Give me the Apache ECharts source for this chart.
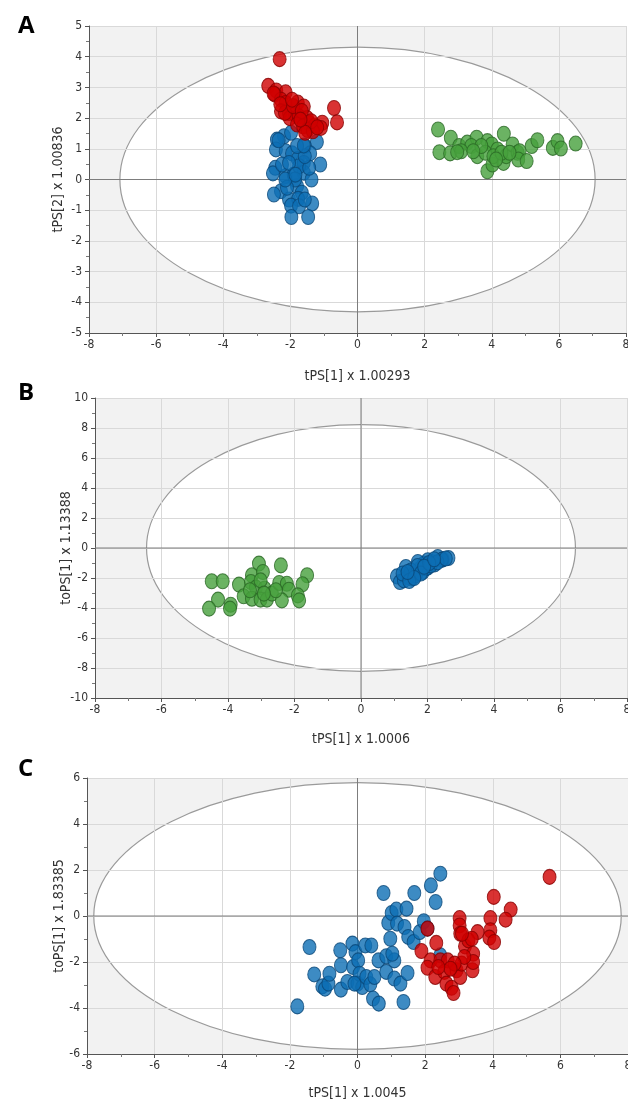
<!DOCTYPE html>
<html>
<head>
<meta charset="utf-8">
<script src="https://cdn.jsdelivr.net/npm/echarts@6.0.0/dist/echarts.min.js"></script>
<style>
  html, body { margin: 0; padding: 0; background: #fff; overflow: hidden; }
  #chart { width: 628px; height: 1100px; }
</style>
</head>
<body>
<div id="chart"></div>
<script>
// score plots A, B, C

const panelLetters = ['A', 'B', 'C'];
const xNames = ['tPS[1] x 1.00293', 'tPS[1] x 1.0006', 'tPS[1] x 1.0045'];
const yNames = ['tPS[2] x 1.00836', 'toPS[1] x 1.13388', 'toPS[1] x 1.83385'];
const xRange = [-8, 8, 2];
const yRanges = [[-5, 5, 1], [-10, 10, 2], [-6, 6, 2]];
// ellipse: centre x, centre y, half width, half height
const ellipseA = [0, 0, 7.08, 4.31];
const ellipseB = [0, 0, 6.45, 8.22];
const ellipseC = [0, 0, 7.8, 5.8];

const aRed = [[-2.32,3.92],[-2.66,3.05],[-2.42,2.9],[-2.14,2.84],[-2.46,2.77],[-2.28,2.6],[-2.14,2.49],[-1.78,2.51],[-1.6,2.38],[-0.7,2.33],[-0.61,1.86],[-2.28,2.22],[-2.04,2.17],[-1.86,2.12],[-2.02,2.0],[-1.75,2.06],[-1.5,2.0],[-1.45,1.84],[-1.8,1.79],[-1.62,1.73],[-1.27,1.76],[-1.05,1.85],[-1.09,1.68],[-1.49,1.61],[-1.33,1.57],[-2.16,2.17],[-1.92,2.39],[-1.66,2.23],[-1.38,1.9],[-1.56,1.52],[-2.5,2.8],[-2.3,2.45],[-1.95,2.6],[-1.7,1.95],[-1.2,1.7]];
const aBlue = [[-2.19,1.41],[-2.4,1.3],[-1.98,1.52],[-1.21,1.22],[-1.57,1.09],[-2.43,0.98],[-2.14,0.92],[-1.95,0.85],[-1.41,0.85],[-1.78,0.67],[-1.6,0.54],[-1.11,0.49],[-2.45,0.38],[-2.52,0.2],[-2.14,0.11],[-1.9,0.16],[-1.6,0.22],[-1.37,0.0],[-1.8,-0.22],[-2.28,-0.38],[-2.49,-0.49],[-1.66,-0.43],[-2.04,-0.65],[-1.77,-0.63],[-1.35,-0.78],[-1.98,-0.85],[-1.74,-0.87],[-1.97,-1.22],[-1.47,-1.22],[-2.25,0.49],[-1.74,0.43],[-1.44,0.38],[-2.04,0.54],[-1.57,0.76],[-1.8,1.09],[-1.86,0.0],[-1.57,-0.65],[-2.1,-0.27],[-2.35,1.28],[-1.6,1.11],[-2.15,0.0],[-1.85,0.16]];
const aGreen = [[2.4,1.63],[2.78,1.36],[2.44,0.89],[2.76,0.85],[3.03,1.09],[3.27,1.2],[3.55,1.36],[3.39,1.09],[3.09,0.92],[3.57,0.76],[3.87,1.25],[4.0,1.14],[3.87,0.27],[4.02,0.49],[3.81,0.87],[4.17,0.98],[4.05,0.76],[4.36,1.49],[4.35,0.54],[4.43,0.76],[4.62,1.14],[4.77,0.87],[4.83,0.92],[4.79,0.65],[5.04,0.6],[5.19,1.09],[5.36,1.28],[5.82,1.03],[5.96,1.25],[6.06,1.01],[6.5,1.17],[3.69,1.09],[4.29,0.87],[4.53,0.87],[4.13,0.65],[3.45,0.92],[2.97,0.89]];

const bGreen = [[-3.07,-1.04],[-2.41,-1.16],[-1.62,-1.82],[-1.76,-2.42],[-4.49,-2.22],[-4.16,-2.22],[-3.67,-2.44],[-3.28,-1.82],[-2.95,-1.6],[-3.31,-2.27],[-3.16,-2.64],[-2.9,-2.71],[-3.53,-3.22],[-3.28,-3.38],[-3.02,-3.44],[-2.83,-3.44],[-2.68,-3.04],[-2.46,-2.33],[-2.23,-2.38],[-2.17,-2.78],[-2.38,-3.49],[-1.9,-3.16],[-1.86,-3.49],[-4.3,-3.44],[-4.57,-4.04],[-3.92,-3.78],[-3.94,-4.04],[-3.02,-2.16],[-2.56,-2.82],[-3.34,-2.82],[-2.92,-3.04]];
const bBlue = [[1.08,-1.89],[1.17,-2.27],[1.35,-1.27],[1.53,-2.04],[1.6,-1.7],[1.77,-1.38],[1.89,-1.04],[2.01,-0.82],[2.13,-0.93],[2.31,-0.6],[2.46,-0.76],[2.63,-0.67],[2.43,-0.78],[2.01,-1.31],[1.86,-1.6],[1.65,-1.82],[1.41,-1.93],[2.22,-1.09],[1.95,-1.36],[1.71,-0.93],[1.29,-2.16],[1.5,-1.5],[1.7,-1.2],[2.1,-1.15],[2.3,-0.95],[2.55,-0.7],[1.25,-1.7],[1.45,-2.2],[1.8,-1.7],[2.05,-1.0],[1.9,-1.25],[2.2,-0.75],[1.6,-2.0],[1.4,-1.6]];

const cBlue = [[-1.78,-3.93],[-1.42,-1.35],[-1.28,-2.54],[-1.04,-3.06],[-0.96,-3.16],[-0.86,-2.94],[-0.83,-2.51],[-0.51,-1.49],[-0.49,-2.14],[-0.49,-3.2],[-0.3,-2.87],[-0.15,-1.2],[-0.06,-1.57],[-0.13,-2.22],[0.02,-1.93],[0.0,-2.94],[0.06,-2.51],[0.14,-3.09],[-0.09,-2.94],[0.23,-1.28],[0.41,-1.28],[0.26,-2.65],[0.38,-2.97],[0.5,-2.65],[0.46,-3.59],[0.63,-3.81],[0.62,-1.93],[0.77,1.0],[0.85,-1.75],[0.85,-2.43],[0.97,-0.99],[0.91,-0.3],[1.01,0.13],[1.09,-1.93],[1.09,-2.72],[1.15,0.28],[1.17,-0.33],[1.27,-2.94],[1.36,-3.74],[1.39,-0.48],[1.45,0.32],[1.48,-2.48],[1.5,-0.91],[1.68,1.0],[1.66,-1.13],[1.84,-0.7],[1.96,-0.23],[2.17,1.33],[2.31,0.61],[2.45,1.84],[2.07,-0.55],[2.45,-1.71],[1.03,-1.64]];
const cRed = [[5.68,1.7],[4.03,0.83],[4.53,0.28],[4.38,-0.16],[3.93,-0.09],[3.55,-0.7],[3.93,-0.62],[3.9,-0.94],[4.04,-1.13],[3.02,-0.09],[3.02,-0.41],[3.04,-0.77],[2.07,-0.55],[2.33,-1.17],[1.89,-1.52],[2.16,-1.93],[2.07,-2.25],[2.3,-2.65],[2.45,-1.93],[2.67,-1.93],[2.57,-2.43],[2.63,-2.94],[2.78,-3.12],[2.84,-3.35],[2.93,-2.36],[3.04,-2.65],[3.08,-2.07],[3.18,-1.32],[3.28,-1.06],[3.38,-0.99],[3.42,-1.64],[3.4,-2.36],[3.42,-2.0],[3.16,-1.78],[2.87,-2.07],[2.75,-2.29],[2.39,-2.22],[3.09,-0.77]];

const colors = {
  red: { color: '#cf0000', borderColor: '#870000' },
  blue: { color: '#0c6eb4', borderColor: '#0a4778' },
  green: { color: '#46a03c', borderColor: '#2a6826' }
};

const panels = [
  { grid: { left: 89, right: 2, top: 26, height: 307 }, ellipse: ellipseA, groups: [['green', aGreen], ['blue', aBlue], ['red', aRed]], letterTop: 9, xGap: 36, yGap: 24 },
  { grid: { left: 95, right: 1, top: 398, height: 300 }, ellipse: ellipseB, groups: [['green', bGreen], ['blue', bBlue]], letterTop: 376, xGap: 34, yGap: 22 },
  { grid: { left: 87, right: 0, top: 778, height: 276 }, ellipse: ellipseC, groups: [['blue', cBlue], ['red', cRed]], letterTop: 752, xGap: 32, yGap: 21 }
];

const labelFont = "'Liberation Sans Narrow', 'DejaVu Sans Condensed', sans-serif";

const grids = [], xAxes = [], yAxes = [], series = [], titles = [];

function axisBase() {
  return {
    type: 'value',
    axisLine: { onZero: false, lineStyle: { color: '#555', width: 1 } },
    axisTick: { show: true, length: 4, lineStyle: { color: '#555' } },
    minorTick: { show: true, splitNumber: 2, length: 3, lineStyle: { color: '#777' } },
    splitLine: { show: true, lineStyle: { color: '#d9d9d9', width: 1 } },
    axisLabel: { color: '#333', fontSize: 12, fontFamily: labelFont },
    nameLocation: 'middle',
    nameMoveOverlap: false,
    nameTextStyle: { color: '#333', fontSize: 14, fontFamily: labelFont }
  };
}

panels.forEach((p, i) => {
  grids.push(Object.assign({ show: true, backgroundColor: '#f2f2f2', borderWidth: 0, z: -2, outerBoundsMode: 'none' }, p.grid));

  xAxes.push(Object.assign(axisBase(), {
    gridIndex: i, min: xRange[0], max: xRange[1], interval: xRange[2],
    name: xNames[i], nameGap: p.xGap
  }));
  xAxes[i].axisLabel.margin = 6;

  const yr = yRanges[i];
  yAxes.push(Object.assign(axisBase(), {
    gridIndex: i, min: yr[0], max: yr[1], interval: yr[2],
    name: yNames[i], nameGap: p.yGap
  }));
  yAxes[i].axisLabel.margin = 7;

  // confidence ellipse, under the grid lines
  series.push({
    type: 'custom', xAxisIndex: i, yAxisIndex: i, z: -1, silent: true,
    data: [p.ellipse],
    renderItem: (params, api) => {
      const c = api.coord([api.value(0), api.value(1)]);
      const s = api.size([api.value(2), api.value(3)]);
      return {
        type: 'ellipse',
        shape: { cx: c[0], cy: c[1], rx: s[0], ry: s[1] },
        style: { fill: '#ffffff', stroke: '#9a9a9a', lineWidth: 1.2 }
      };
    }
  });

  // zero lines
  series.push({
    type: 'custom', xAxisIndex: i, yAxisIndex: i, z: 1, silent: true,
    data: [[0, 0]],
    renderItem: (params, api) => {
      const c = api.coord([api.value(0), api.value(1)]);
      const r = params.coordSys;
      return {
        type: 'group',
        children: [
          { type: 'line', shape: { x1: c[0], y1: r.y, x2: c[0], y2: r.y + r.height }, style: { stroke: '#7d7d7d', lineWidth: 1 } },
          { type: 'line', shape: { x1: r.x, y1: c[1], x2: r.x + r.width, y2: c[1] }, style: { stroke: '#7d7d7d', lineWidth: 1 } }
        ]
      };
    }
  });

  p.groups.forEach(([key, pts]) => {
    series.push({
      type: 'scatter', xAxisIndex: i, yAxisIndex: i, z: 3,
      symbol: 'circle', symbolSize: [13, 15],
      itemStyle: { color: colors[key].color, borderColor: colors[key].borderColor, borderWidth: 1 },
      data: pts
    });
  });

  titles.push({
    text: panelLetters[i], left: 13, top: p.letterTop,
    textStyle: { fontSize: 24, fontWeight: 'bold', color: '#000', fontFamily: "'Open Sans', sans-serif" }
  });
});

const chart = echarts.init(document.getElementById('chart'), null, { renderer: 'canvas' });
chart.setOption({
  animation: false,
  backgroundColor: '#fff',
  title: titles,
  grid: grids,
  xAxis: xAxes,
  yAxis: yAxes,
  series: series
});
</script>
</body>
</html>
